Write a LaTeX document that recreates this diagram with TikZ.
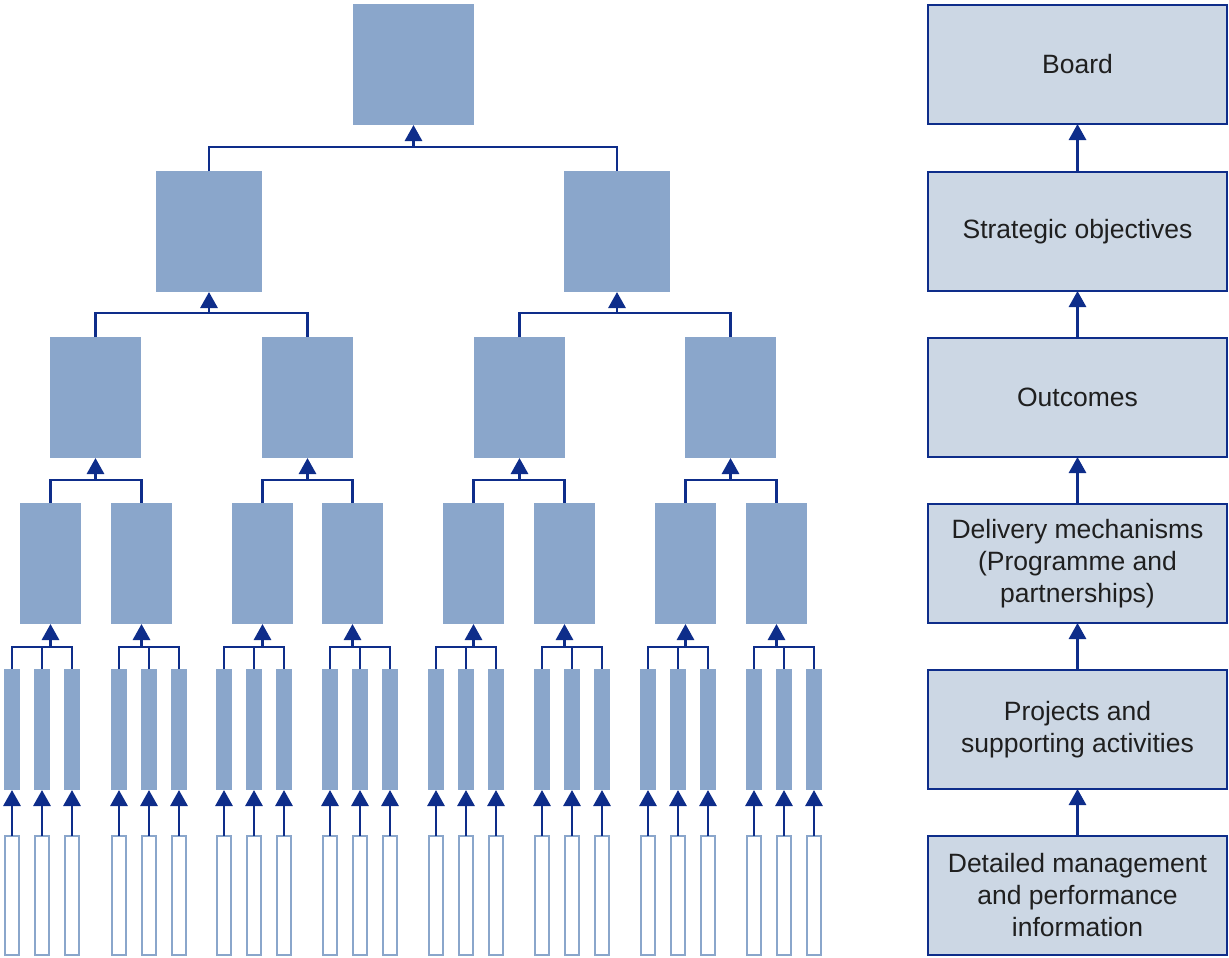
\documentclass[tikz,border=0pt]{standalone}
\usepackage{fontspec}
\setmainfont{Liberation Sans}
\usetikzlibrary{arrows.meta}
\definecolor{boxblue}{HTML}{8AA6CB}
\definecolor{linkblue}{HTML}{0E2D8A}
\definecolor{paleblue}{HTML}{CCD7E4}
\begin{document}
\begin{tikzpicture}[x=1pt,y=-1pt,
  block/.style={rectangle, fill=boxblue, inner sep=0pt, outer sep=0pt, minimum height=121pt},
  slot/.style={rectangle, draw=boxblue, line width=2pt, fill=white, inner sep=0pt, outer sep=0pt,
    minimum width=14pt, minimum height=119pt},
  level/.style={rectangle, draw=linkblue, line width=2pt, fill=paleblue, inner sep=0pt, outer sep=0pt,
    minimum width=299pt, minimum height=119pt, align=center, text=black!88,
    font=\fontsize{26.5}{32}\selectfont},
  link/.style={draw=linkblue, line width=2.9pt, line join=miter},
  up/.style={link, -{Triangle[width=17pt,length=16pt]}},
]
\useasboundingbox (0,0) rectangle (1229,958);

% ---------- hierarchy tree ----------
\node[block, minimum width=121pt] (L1) at (413.5,64.5) {};
\foreach \x [count=\i] in {209,617}
  \node[block, minimum width=106pt] (L2-\i) at (\x,231.5) {};
\foreach \x [count=\i] in {95.5,307.5,519.5,730.5}
  \node[block, minimum width=91pt] (L3-\i) at (\x,397.5) {};
\foreach \x [count=\i] in {50.5,141.5,262.5,352.5,473.5,564.5,685.5,776.5}
  \node[block, minimum width=61pt] (L4-\i) at (\x,563.5) {};

% leaf bars with their outlined source slots
\foreach \s [count=\g] in {4,111,216,322,428,534,640,746}
  \foreach \k in {1,2,3} {
    \node[block, minimum width=16pt] (L5-\g-\k) at ({\s+8+30*(\k-1)},729.5) {};
    \node[slot] (L6-\g-\k) at ({\s+8+30*(\k-1)},895.5) {};
    \draw[up] (L6-\g-\k.north) -- (L5-\g-\k.south);
  }

% forks: level 2 -> level 1
\coordinate (J1) at (L1.south |- 0,147);
\draw[link] (L2-1.north) -- (L2-1.north |- J1) -- (L2-2.north |- J1) -- (L2-2.north);
\draw[up] (J1) -- (L1.south);

% level 3 -> level 2
\foreach \i in {1,2} {
  \pgfmathtruncatemacro\a{2*\i-1}
  \pgfmathtruncatemacro\b{2*\i}
  \coordinate (J2-\i) at (L2-\i.south |- 0,313);
  \draw[link] (L3-\a.north) -- (L3-\a.north |- J2-\i) -- (L3-\b.north |- J2-\i) -- (L3-\b.north);
  \draw[up] (J2-\i) -- (L2-\i.south);
}

% level 4 -> level 3
\foreach \i in {1,...,4} {
  \pgfmathtruncatemacro\a{2*\i-1}
  \pgfmathtruncatemacro\b{2*\i}
  \coordinate (J3-\i) at (L3-\i.south |- 0,480);
  \draw[link] (L4-\a.north) -- (L4-\a.north |- J3-\i) -- (L4-\b.north |- J3-\i) -- (L4-\b.north);
  \draw[up] (J3-\i) -- (L3-\i.south);
}

% level 5 -> level 4
\foreach \g in {1,...,8} {
  \coordinate (J4-\g) at (L4-\g.south |- 0,647);
  \draw[link] (L5-\g-1.north) -- (L5-\g-1.north |- J4-\g) -- (L5-\g-3.north |- J4-\g) -- (L5-\g-3.north);
  \draw[link] (L5-\g-2.north) -- (L5-\g-2.north |- J4-\g);
  \draw[up] (J4-\g) -- (L4-\g.south);
}

% ---------- legend column ----------
\node[level] (R1) at (1077.5,64.5)  {Board};
\node[level] (R2) at (1077.5,231.5) {Strategic objectives};
\node[level] (R3) at (1077.5,397.5) {Outcomes};
\node[level] (R4) at (1077.5,563.5) {Delivery mechanisms\\(Programme and\\partnerships)};
\node[level] (R5) at (1077.5,729.5) {Projects and\\supporting activities};
\node[level] (R6) at (1077.5,895.5) {Detailed management\\and performance\\information};
\foreach \lo/\hi in {R2/R1,R3/R2,R4/R3,R5/R4,R6/R5}
  \draw[up] (\lo.north) -- (\hi.south);
\end{tikzpicture}
\end{document}
